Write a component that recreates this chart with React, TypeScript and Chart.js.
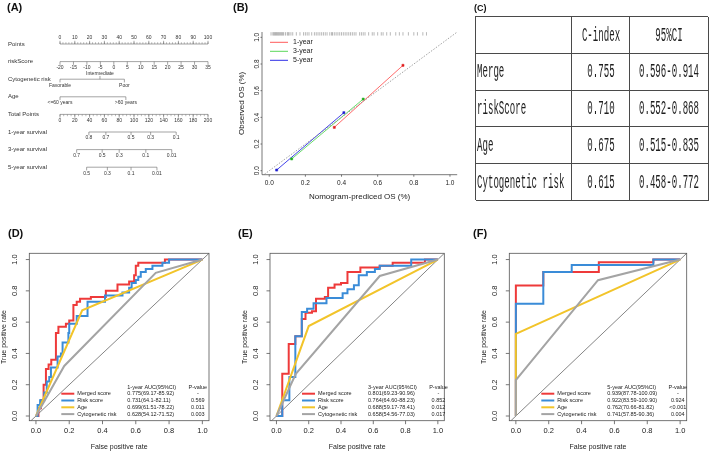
import React, { useEffect, useRef } from 'react';
import { Chart, registerables } from 'chart.js';

Chart.register(...registerables);

const FONT = '"Liberation Sans", Arial, Helvetica, sans-serif';
const TEXT = '#222222';
const AXIS = '#555555';

/* ---------------- (A) nomogram data ---------------- */
const nomoRowNames = ['Points', 'riskScore', 'Cytogenetic risk', 'Age', 'Total Points', '1-year survival', '3-year survival', '5-year survival'];
const pointsTicks = [0, 10, 20, 30, 40, 50, 60, 70, 80, 90, 100];
const riskScoreTicks = [-20, -15, -10, -5, 0, 5, 10, 15, 20, 25, 30, 35];
const cytoLabels = ['Favorable', 'Intermediate', 'Poor'];
const cytoPoints = [0, 27, 43.5];
const ageLabels = ['<=60 years', '>60 years'];
const agePoints = [0, 44.5];
const totalPointsTicks = [0, 20, 40, 60, 80, 100, 120, 140, 160, 180, 200];
const surv1Labels = ['0.8', '0.7', '0.5', '0.3', '0.1'];
const surv1Total = [39, 62, 96, 122.5, 157];
const surv3Labels = ['0.7', '0.5', '0.3', '0.1', '0.01'];
const surv3Total = [22.5, 57, 80, 116, 151];
const surv5Labels = ['0.5', '0.3', '0.1', '0.01'];
const surv5Total = [36, 64, 96, 131];

/* ---------------- (B) calibration data ---------------- */
const calLabels = ['1-year', '3-year', '5-year'];
const cal1Pred = [0.36, 0.74];
const cal1Obs = [0.325, 0.79];
const cal3Pred = [0.124, 0.52];
const cal3Obs = [0.088, 0.537];
const cal5Pred = [0.041, 0.413];
const cal5Obs = [0.005, 0.435];
const calLineColors = ['#FF5A5A', '#5AD85A', '#2E2EE6'];
const calPointColors = ['#E01E1E', '#22B022', '#1E1ED0'];
const calRug = [0.01, 0.02, 0.025, 0.03, 0.035, 0.04, 0.045, 0.05, 0.055, 0.06, 0.065, 0.07, 0.075, 0.08, 0.09, 0.1, 0.105, 0.11, 0.12, 0.13, 0.15, 0.17, 0.19, 0.2, 0.21, 0.22, 0.235, 0.25, 0.26, 0.27, 0.28, 0.29, 0.3, 0.31, 0.32, 0.335, 0.345, 0.35, 0.36, 0.37, 0.38, 0.39, 0.4, 0.41, 0.42, 0.43, 0.44, 0.45, 0.46, 0.47, 0.48, 0.5, 0.51, 0.52, 0.53, 0.55, 0.57, 0.58, 0.6, 0.62, 0.63, 0.65, 0.67, 0.7, 0.72, 0.74, 0.77, 0.8, 0.82, 0.85, 0.87];
const calTickVals = [0, 0.2, 0.4, 0.6, 0.8, 1];
const calTickLabels = ['0.0', '0.2', '0.4', '0.6', '0.8', '1.0'];

/* ---------------- (C) table data ---------------- */
const tableHeader = ['', 'C-index', '95%CI'];
const tableRowNames = ['Merge', 'riskScore', 'Age', 'Cytogenetic risk'];
const tableCIndex = ['0.755', '0.710', '0.675', '0.615'];
const tableCI = ['0.596-0.914', '0.552-0.868', '0.515-0.835', '0.458-0.772'];

/* ---------------- (D)(E)(F) ROC data ---------------- */
const rocNames = ['Merged score', 'Risk score', 'Age', 'Cytogenetic risk'];
const rocColors = ['#EE3A3A', '#3A8CD8', '#F2C42A', '#A4A4A4'];
const rocTickVals = [0, 0.2, 0.4, 0.6, 0.8, 1];
const rocTickLabels = ['0.0', '0.2', '0.4', '0.6', '0.8', '1.0'];

const dMerged = [[0, 0], [0.015, 0], [0.015, 0.05], [0.03, 0.05], [0.03, 0.1], [0.046, 0.1], [0.046, 0.2], [0.06, 0.2], [0.06, 0.3], [0.076, 0.3], [0.076, 0.33], [0.092, 0.33], [0.092, 0.36], [0.12, 0.36], [0.12, 0.53], [0.135, 0.53], [0.135, 0.57], [0.18, 0.57], [0.18, 0.59], [0.2, 0.59], [0.2, 0.61], [0.225, 0.61], [0.225, 0.71], [0.245, 0.71], [0.245, 0.73], [0.265, 0.73], [0.265, 0.75], [0.33, 0.75], [0.33, 0.76], [0.42, 0.76], [0.42, 0.8], [0.49, 0.8], [0.49, 0.84], [0.56, 0.84], [0.56, 0.86], [0.59, 0.86], [0.59, 0.9], [0.6, 0.9], [0.6, 0.96], [0.615, 0.96], [0.615, 0.98], [0.775, 0.98], [0.775, 1], [1, 1]];
const dRisk = [[0, 0], [0.01, 0], [0.01, 0.07], [0.025, 0.07], [0.025, 0.1], [0.05, 0.1], [0.05, 0.15], [0.065, 0.15], [0.065, 0.22], [0.08, 0.22], [0.08, 0.25], [0.09, 0.25], [0.09, 0.31], [0.13, 0.31], [0.13, 0.38], [0.15, 0.38], [0.15, 0.4], [0.16, 0.4], [0.16, 0.47], [0.195, 0.47], [0.195, 0.53], [0.2, 0.53], [0.2, 0.59], [0.245, 0.59], [0.245, 0.64], [0.31, 0.64], [0.31, 0.73], [0.415, 0.73], [0.415, 0.77], [0.52, 0.77], [0.52, 0.79], [0.56, 0.79], [0.56, 0.82], [0.575, 0.82], [0.575, 0.85], [0.6, 0.85], [0.6, 0.87], [0.615, 0.87], [0.615, 0.89], [0.63, 0.89], [0.63, 0.92], [0.66, 0.92], [0.66, 0.94], [0.7, 0.94], [0.7, 0.96], [0.76, 0.96], [0.76, 0.98], [0.8, 0.98], [0.8, 1], [1, 1]];
const dAge = [[0, 0], [0.278, 0.676], [1, 1]];
const dCyto = [[0, 0], [0.17, 0.32], [0.72, 0.915], [1, 1]];

const eMerged = [[0, 0], [0.036, 0], [0.036, 0.27], [0.076, 0.27], [0.076, 0.46], [0.117, 0.46], [0.117, 0.51], [0.157, 0.51], [0.157, 0.62], [0.18, 0.62], [0.18, 0.66], [0.22, 0.66], [0.22, 0.67], [0.245, 0.67], [0.245, 0.75], [0.3, 0.75], [0.3, 0.76], [0.32, 0.76], [0.32, 0.82], [0.36, 0.82], [0.36, 0.84], [0.4, 0.84], [0.4, 0.85], [0.44, 0.85], [0.44, 0.92], [0.52, 0.92], [0.52, 0.95], [0.64, 0.95], [0.64, 0.96], [0.72, 0.96], [0.72, 0.98], [0.92, 0.98], [0.92, 1], [1, 1]];
const eRisk = [[0, 0], [0.036, 0], [0.036, 0.1], [0.08, 0.1], [0.08, 0.25], [0.117, 0.25], [0.117, 0.51], [0.157, 0.51], [0.157, 0.665], [0.19, 0.665], [0.19, 0.685], [0.23, 0.685], [0.23, 0.72], [0.31, 0.72], [0.31, 0.755], [0.41, 0.755], [0.41, 0.785], [0.44, 0.785], [0.44, 0.81], [0.48, 0.81], [0.48, 0.835], [0.51, 0.835], [0.51, 0.9], [0.56, 0.9], [0.56, 0.92], [0.61, 0.92], [0.61, 0.94], [0.64, 0.94], [0.64, 0.96], [0.835, 0.96], [0.835, 1], [1, 1]];
const eAge = [[0, 0], [0.2, 0.575], [1, 1]];
const eCyto = [[0, 0], [0.12, 0.27], [0.64, 0.895], [1, 1]];

const fMerged = [[0, 0], [0, 0.834], [0.167, 0.834], [0.167, 0.92], [0.505, 0.92], [0.505, 0.983], [0.837, 0.983], [0.837, 1], [1, 1]];
const fRisk = [[0, 0], [0, 0.717], [0.167, 0.717], [0.167, 0.92], [0.34, 0.92], [0.34, 0.966], [0.837, 0.966], [0.837, 1], [1, 1]];
const fAge = [[0, 0], [0, 0.525], [1, 1]];
const fCyto = [[0, 0], [0, 0.23], [0.5, 0.868], [1, 1]];

const dHeader = '1-year AUC(95%CI)';
const dAuc = ['0.775(69.17-85.92)', '0.731(64.1-82.11)', '0.699(61.51-78.22)', '0.628(54.12-71.52)'];
const dP = ['-', '0.569', '0.011', '0.003'];
const eHeader = '3-year AUC(95%CI)';
const eAuc = ['0.801(69.23-90.96)', '0.764(64.60-88.23)', '0.688(59.17-78.41)', '0.658(54.56-77.03)'];
const eP = ['-', '0.852', '0.012', '0.017'];
const fHeader = '5-year AUC(95%CI)';
const fAuc = ['0.939(87.78-100.09)', '0.922(83.59-100.90)', '0.762(70.66-81.82)', '0.741(57.85-90.36)'];
const fP = ['-', '0.924', '<0.001', '0.004'];

/* ---------------- helpers ---------------- */
function useChart(ref: React.RefObject<HTMLCanvasElement | null>, build: () => any) {
  useEffect(() => {
    if (!ref.current) return;
    const chart = new Chart(ref.current, build());
    return () => chart.destroy();
  }, []);
}

function Canvas({ left, top, width, height, build }: { left: number; top: number; width: number; height: number; build: () => any }) {
  const ref = useRef<HTMLCanvasElement>(null);
  useChart(ref, build);
  return (
    <canvas
      ref={ref}
      width={width}
      height={height}
      style={{ position: 'absolute', left, top, width, height }}
    />
  );
}

/* ---------------- (A) ---------------- */
type NomoRow = { pos: number[]; labels: string[]; side: number[]; minorStep?: number };

function nomoRows(): NomoRow[] {
  const riskToPts = (v: number) => ((v + 20) / 55) * 100;
  const totToPts = (v: number) => v / 2;
  return [
    { pos: pointsTicks, labels: pointsTicks.map(String), side: pointsTicks.map(() => -1), minorStep: 2 },
    { pos: riskScoreTicks.map(riskToPts), labels: riskScoreTicks.map(String), side: riskScoreTicks.map(() => 1) },
    { pos: cytoPoints, labels: cytoLabels, side: [1, -1, 1] },
    { pos: agePoints, labels: ageLabels, side: [1, 1] },
    { pos: totalPointsTicks.map(totToPts), labels: totalPointsTicks.map(String), side: totalPointsTicks.map(() => 1), minorStep: 2.5 },
    { pos: surv1Total.map(totToPts), labels: surv1Labels, side: surv1Labels.map(() => 1) },
    { pos: surv3Total.map(totToPts), labels: surv3Labels, side: surv3Labels.map(() => 1) },
    { pos: surv5Total.map(totToPts), labels: surv5Labels, side: surv5Labels.map(() => 1) },
  ];
}

function buildNomogram() {
  const rows = nomoRows();
  const ROW_PX = 17.6;
  const datasets: any[] = [];
  rows.forEach((r, i) => {
    const lo = Math.min(...r.pos);
    const hi = Math.max(...r.pos);
    datasets.push({
      data: [{ x: lo, y: i }, { x: hi, y: i }],
      showLine: true, pointRadius: 0, borderColor: '#666', borderWidth: 0.6, clip: false,
    });
    datasets.push({
      data: r.pos.map((p, k) => ({ x: p, y: i + (r.side[k] * 1.6) / ROW_PX })),
      showLine: false, pointStyle: 'line', rotation: 90, pointRadius: 1.6,
      pointBorderColor: '#666', pointBorderWidth: 0.6, borderColor: '#666', clip: false,
    });
    if (r.minorStep) {
      const minor: { x: number; y: number }[] = [];
      for (let p = lo; p <= hi + 1e-6; p += r.minorStep) minor.push({ x: p, y: i + (r.side[0] * 0.9) / ROW_PX });
      datasets.push({
        data: minor, showLine: false, pointStyle: 'line', rotation: 90, pointRadius: 0.9,
        pointBorderColor: '#777', pointBorderWidth: 0.5, borderColor: '#777', clip: false,
      });
    }
  });
  const plugin = {
    id: 'nomoText',
    afterDatasetsDraw(chart: any) {
      const { ctx } = chart;
      const xs = chart.scales.x;
      const ys = chart.scales.y;
      ctx.save();
      ctx.fillStyle = '#333';
      ctx.textBaseline = 'middle';
      ctx.textAlign = 'left';
      ctx.font = `6px ${FONT}`;
      nomoRowNames.forEach((n, i) => ctx.fillText(n, 8, ys.getPixelForValue(i)));
      ctx.font = `5px ${FONT}`;
      ctx.textAlign = 'center';
      rows.forEach((r, i) => {
        r.pos.forEach((p, k) => {
          ctx.fillText(r.labels[k], xs.getPixelForValue(p), ys.getPixelForValue(i) + r.side[k] * 6);
        });
      });
      ctx.restore();
    },
  };
  return {
    type: 'scatter',
    data: { datasets },
    options: {
      responsive: false, animation: false, devicePixelRatio: 1,
      layout: { padding: { left: 60, right: 24, top: 44, bottom: 32.8 } },
      scales: {
        x: { type: 'linear', min: 0, max: 100, display: false },
        y: { type: 'linear', min: 0, max: 7, reverse: true, display: false },
      },
      plugins: { legend: { display: false }, tooltip: { enabled: false } },
      events: [],
    },
    plugins: [plugin],
  };
}

/* ---------------- (B) ---------------- */
function buildCalibration() {
  const series = [
    { pred: cal1Pred, obs: cal1Obs },
    { pred: cal3Pred, obs: cal3Obs },
    { pred: cal5Pred, obs: cal5Obs },
  ];
  const datasets: any[] = [
    {
      data: calRug.map((v) => ({ x: v, y: 1.026 })),
      showLine: false, pointStyle: 'line', rotation: 90, pointRadius: 1.7,
      pointBorderColor: 'rgba(95,95,95,0.55)', pointBorderWidth: 0.8, clip: false,
    },
    {
      data: [{ x: -0.04, y: -0.04 }, { x: 1.04, y: 1.04 }],
      showLine: true, pointRadius: 0, borderColor: '#8a8a8a', borderWidth: 0.8, borderDash: [1.5, 1.5],
    },
  ];
  series.forEach((s, i) => {
    datasets.push({
      data: s.pred.map((p, k) => ({ x: p, y: s.obs[k] })),
      showLine: true, borderColor: calLineColors[i], borderWidth: 0.9,
      pointStyle: 'rect', pointRadius: 1.5, pointBackgroundColor: calPointColors[i],
      pointBorderColor: calPointColors[i], pointBorderWidth: 0.5, clip: false,
    });
  });
  const plugin = {
    id: 'calDecor',
    afterDraw(chart: any) {
      const { ctx, chartArea: a } = chart;
      const xs = chart.scales.x;
      const ys = chart.scales.y;
      ctx.save();
      ctx.strokeStyle = AXIS;
      ctx.lineWidth = 0.8;
      ctx.beginPath();
      ctx.moveTo(a.left, a.top);
      ctx.lineTo(a.left, a.bottom);
      ctx.lineTo(a.right, a.bottom);
      calTickVals.forEach((v) => {
        const px = xs.getPixelForValue(v);
        ctx.moveTo(px, a.bottom);
        ctx.lineTo(px, a.bottom + 2);
        const py = ys.getPixelForValue(v);
        ctx.moveTo(a.left, py);
        ctx.lineTo(a.left - 1.5, py);
      });
      ctx.stroke();
      ctx.fillStyle = TEXT;
      ctx.font = `6.5px ${FONT}`;
      ctx.textAlign = 'center';
      ctx.textBaseline = 'middle';
      calTickVals.forEach((v, k) => {
        ctx.fillText(calTickLabels[k], xs.getPixelForValue(v), a.bottom + 8.5);
        ctx.save();
        ctx.translate(a.left - 4.5, ys.getPixelForValue(v));
        ctx.rotate(-Math.PI / 2);
        ctx.fillText(calTickLabels[k], 0, 0);
        ctx.restore();
      });
      ctx.font = `8px ${FONT}`;
      ctx.fillText('Nomogram-prediced OS (%)', (a.left + a.right) / 2, a.bottom + 22);
      ctx.save();
      ctx.translate(a.left - 20.5, (a.top + a.bottom) / 2);
      ctx.rotate(-Math.PI / 2);
      ctx.fillText('Observed OS (%)', 0, 0);
      ctx.restore();
      // legend
      ctx.font = `7px ${FONT}`;
      ctx.textAlign = 'left';
      calLabels.forEach((lab, i) => {
        const y = a.top + 10.3 + i * 9;
        ctx.strokeStyle = calLineColors[i];
        ctx.lineWidth = 1;
        ctx.beginPath();
        ctx.moveTo(a.left + 8, y);
        ctx.lineTo(a.left + 26, y);
        ctx.stroke();
        ctx.fillText(lab, a.left + 31, y);
      });
      ctx.restore();
    },
  };
  return {
    type: 'scatter',
    data: { datasets },
    options: {
      responsive: false, animation: false, devicePixelRatio: 1,
      layout: { padding: { left: 32, right: 12.8, top: 32, bottom: 30.3 } },
      scales: {
        x: { type: 'linear', min: -0.04, max: 1.04, display: false },
        y: { type: 'linear', min: -0.03, max: 1.04, display: false },
      },
      plugins: { legend: { display: false }, tooltip: { enabled: false } },
      events: [],
    },
    plugins: [plugin],
  };
}

/* ---------------- (D)(E)(F) ROC ---------------- */
function buildRoc(
  curves: number[][][],
  header: string,
  auc: string[],
  pvals: string[],
  pad: { left: number; right: number; top: number; bottom: number },
) {
  const datasets: any[] = [
    {
      data: [{ x: -0.04, y: -0.04 }, { x: 1.04, y: 1.04 }],
      showLine: true, pointRadius: 0, borderColor: '#333', borderWidth: 0.6, order: 10,
    },
  ];
  curves.forEach((c, i) => {
    datasets.push({
      data: c.map(([x, y]) => ({ x, y })),
      showLine: true, pointRadius: 0, borderColor: rocColors[i], borderWidth: 2,
      order: 5 - i, borderJoinStyle: 'miter', borderCapStyle: 'butt',
    });
  });
  const plugin = {
    id: 'rocDecor',
    afterDraw(chart: any) {
      const { ctx, chartArea: a } = chart;
      const xs = chart.scales.x;
      const ys = chart.scales.y;
      ctx.save();
      ctx.strokeStyle = AXIS;
      ctx.lineWidth = 0.8;
      ctx.strokeRect(a.left, a.top, a.right - a.left, a.bottom - a.top);
      ctx.beginPath();
      rocTickVals.forEach((v) => {
        const px = xs.getPixelForValue(v);
        ctx.moveTo(px, a.bottom);
        ctx.lineTo(px, a.bottom + 3.5);
        const py = ys.getPixelForValue(v);
        ctx.moveTo(a.left, py);
        ctx.lineTo(a.left - 3.5, py);
      });
      ctx.stroke();
      ctx.fillStyle = TEXT;
      ctx.textAlign = 'center';
      ctx.textBaseline = 'middle';
      ctx.font = `7.5px ${FONT}`;
      rocTickVals.forEach((v, k) => {
        ctx.fillText(rocTickLabels[k], xs.getPixelForValue(v), a.bottom + 9.8);
        ctx.save();
        ctx.translate(a.left - 14, ys.getPixelForValue(v));
        ctx.rotate(-Math.PI / 2);
        ctx.fillText(rocTickLabels[k], 0, 0);
        ctx.restore();
      });
      ctx.font = `7px ${FONT}`;
      ctx.fillText('False positive rate', (a.left + a.right) / 2, a.bottom + 26.5);
      ctx.save();
      ctx.translate(a.left - 25, (a.top + a.bottom) / 2);
      ctx.rotate(-Math.PI / 2);
      ctx.fillText('True positive rate', 0, 0);
      ctx.restore();
      // legend
      ctx.font = `5.5px ${FONT}`;
      ctx.textAlign = 'left';
      ctx.fillText(header, a.left + 98, a.bottom - 33.7);
      ctx.textAlign = 'center';
      ctx.fillText('P-value', a.left + 168.5, a.bottom - 33.7);
      rocNames.forEach((n, i) => {
        const y = a.bottom - 27 + i * 6.8;
        ctx.strokeStyle = rocColors[i];
        ctx.lineWidth = 2;
        ctx.beginPath();
        ctx.moveTo(a.left + 32, y);
        ctx.lineTo(a.left + 45, y);
        ctx.stroke();
        ctx.textAlign = 'left';
        ctx.fillText(n, a.left + 48, y);
        ctx.fillText(auc[i], a.left + 98, y);
        ctx.textAlign = 'center';
        ctx.fillText(pvals[i], a.left + 168.5, y);
      });
      ctx.restore();
    },
  };
  return {
    type: 'scatter',
    data: { datasets },
    options: {
      responsive: false, animation: false, devicePixelRatio: 1,
      layout: { padding: pad },
      scales: {
        x: { type: 'linear', min: -0.04, max: 1.04, display: false },
        y: { type: 'linear', min: -0.03, max: 1.04, display: false },
      },
      plugins: { legend: { display: false }, tooltip: { enabled: false } },
      events: [],
    },
    plugins: [plugin],
  };
}

/* ---------------- (C) table ---------------- */
function ResultTable() {
  const colX = [0, 96, 154];
  const colW = [96, 58, 79];
  const rowH = 36.8;
  const rows = [tableHeader, ...tableRowNames.map((n, i) => [n, tableCIndex[i], tableCI[i]])];
  const cells: React.ReactNode[] = [];
  rows.forEach((r, ri) => {
    r.forEach((txt, ci) => {
      const first = ci === 0;
      cells.push(
        <div
          key={`${ri}-${ci}`}
          style={{
            position: 'absolute', left: colX[ci], top: ri * rowH, width: colW[ci], height: rowH,
            boxSizing: 'border-box', borderRight: '1px solid #4a4a4a', borderBottom: '1px solid #4a4a4a',
          }}
        >
          <span
            style={{
              position: 'absolute', top: '52%', left: first ? 1 : '50%', whiteSpace: 'nowrap',
              fontFamily: '"Liberation Mono", "DejaVu Sans Mono", monospace', fontSize: 20, lineHeight: '20px',
              color: '#1e1e1e',
              transformOrigin: first ? 'left center' : 'center center',
              transform: first ? 'translateY(-50%) scaleX(0.455)' : 'translate(-50%, -50%) scaleX(0.455)',
            }}
          >
            {txt}
          </span>
        </div>,
      );
    });
  });
  return (
    <div
      style={{
        position: 'absolute', left: 475, top: 16, width: 233, height: rowH * 5,
        boxSizing: 'border-box', borderLeft: '1px solid #4a4a4a', borderTop: '1px solid #4a4a4a',
      }}
    >
      {cells}
    </div>
  );
}

function PanelLabel({ text, left, top, size = 11 }: { text: string; left: number; top: number; size?: number }) {
  return (
    <div
      style={{
        position: 'absolute', left, top, fontFamily: FONT, fontWeight: 'bold', fontSize: size,
        lineHeight: `${size}px`, color: '#111', whiteSpace: 'nowrap',
      }}
    >
      {text}
    </div>
  );
}

export default function App() {
  return (
    <div
      style={{
        position: 'fixed', left: 0, top: 0, width: 709, height: 452, background: '#fff', overflow: 'hidden',
      }}
    >
      <Canvas left={0} top={0} width={232} height={200} build={buildNomogram} />
      <Canvas left={230} top={0} width={240} height={205} build={buildCalibration} />
      <ResultTable />
      <Canvas
        left={0} top={200} width={235} height={252}
        build={() => buildRoc([dMerged, dRisk, dAge, dCyto], dHeader, dAuc, dP, { left: 29.3, right: 26, top: 53.3, bottom: 31.3 })}
      />
      <Canvas
        left={235} top={200} width={235} height={252}
        build={() => buildRoc([eMerged, eRisk, eAge, eCyto], eHeader, eAuc, eP, { left: 35, right: 25.7, top: 53.3, bottom: 31.3 })}
      />
      <Canvas
        left={470} top={200} width={239} height={252}
        build={() => buildRoc([fMerged, fRisk, fAge, fCyto], fHeader, fAuc, fP, { left: 39.3, right: 22.3, top: 53.3, bottom: 31.3 })}
      />
      <PanelLabel text="(A)" left={7} top={2} />
      <PanelLabel text="(B)" left={233} top={2} />
      <PanelLabel text="(C)" left={474} top={4} size={9} />
      <PanelLabel text="(D)" left={8} top={228} />
      <PanelLabel text="(E)" left={238} top={228} />
      <PanelLabel text="(F)" left={473} top={228} />
    </div>
  );
}
